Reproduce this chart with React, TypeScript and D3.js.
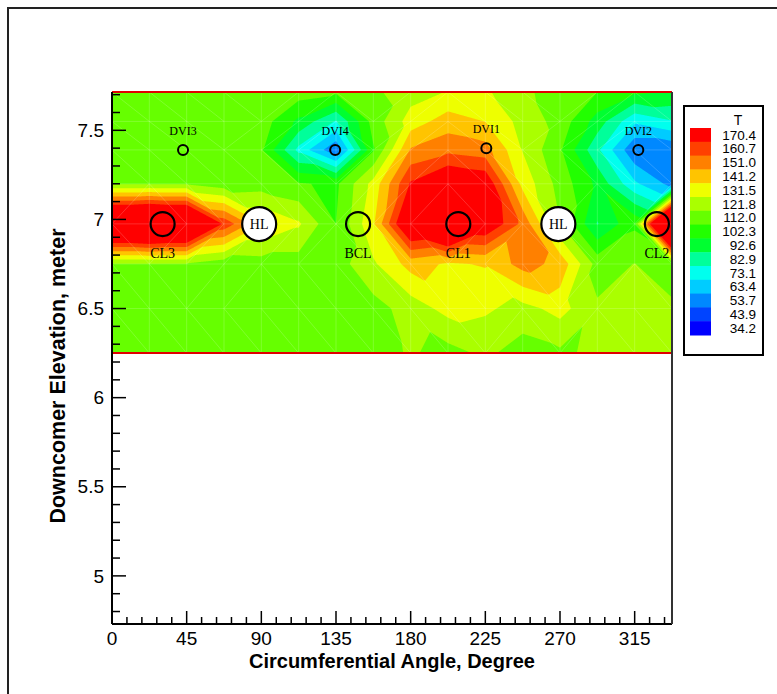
import React, { useEffect, useRef } from 'react';
import * as d3 from 'd3';

// measurement grid: angle columns (degree) and elevation rows (meter)
const gridAngles = [0, 22.5, 45, 67.5, 90, 112.5, 135, 157.5, 180, 202.5, 225, 247.5, 270, 292.5, 315, 337.5];
const gridElevations = [7.715, 7.55, 7.39, 7.2, 6.975, 6.75, 6.5, 6.25];

const temps7715 = [117, 117, 117, 117, 117, 117, 114, 120, 127, 132, 133, 124, 117, 112, 104, 102];
const temps755 = [117, 117, 117, 117, 117, 100, 82, 116, 136, 146, 141, 128, 118, 98, 75, 82];
const temps739 = [117, 117, 117, 117, 113, 80, 55, 111, 152, 158, 155, 131, 113, 85, 55, 55];
const temps720 = [121, 121, 121, 116, 117, 113, 110, 135, 172, 185, 180, 138, 118, 100, 75, 60];
const temps6975 = [215, 220, 215, 168, 142, 133, 112, 140, 190, 210, 182, 158, 122, 92, 110, 260];
const temps675 = [121, 121, 121, 116, 117, 117, 117, 130, 145, 140, 142, 155, 148, 118, 122, 115];
const temps650 = [117, 117, 117, 117, 117, 117, 117, 118, 126, 135, 133, 128, 135, 123, 124, 124];
const temps625 = [117, 117, 117, 117, 117, 117, 117, 117, 123, 118, 124, 117, 120, 124, 123, 125];
const tempRows = [temps7715, temps755, temps739, temps720, temps6975, temps675, temps650, temps625];

// contour levels (legend) and their colours
const levels = [34.2, 43.9, 53.7, 63.4, 73.1, 82.9, 92.6, 102.3, 112.0, 121.8, 131.5, 141.2, 151.0, 160.7, 170.4];
const levelColors = ['#0000ff', '#0044ff', '#0088ff', '#00ccff', '#00ffee', '#00ff9a', '#00ff30', '#22ff00',
  '#66ff00', '#aaff00', '#eeff00', '#ffc400', '#ff8000', '#ff4000', '#ff0000'];

// nozzles and DVI ports
const nozzleNames = ['CL3', 'HL', 'BCL', 'CL1', 'HL', 'CL2'];
const nozzleAngles = [30.5, 88.7, 148.3, 208.7, 269, 328.4];
const nozzleElevations = [6.974, 6.974, 6.974, 6.974, 6.974, 6.974];
const dviNames = ['DVI3', 'DVI4', 'DVI1', 'DVI2'];
const dviAngles = [42.8, 134.5, 225.6, 317.2];
const dviElevations = [7.39, 7.39, 7.4, 7.39];

const xTicks = [0, 45, 90, 135, 180, 225, 270, 315];
const yTicks = [5, 5.5, 6, 6.5, 7, 7.5];

// diagonal of each grid cell joins the two corners with closer values
const useMainDiagonal = (i: number, j: number) =>
  Math.abs(tempRows[j][i] - tempRows[j + 1][i + 1]) <= Math.abs(tempRows[j][i + 1] - tempRows[j + 1][i]);

// linear interpolation over the triangulated grid
const sampleTemp = (a: number, e: number) => {
  let i = 0;
  while (i < gridAngles.length - 2 && a > gridAngles[i + 1]) i++;
  let j = 0;
  while (j < gridElevations.length - 2 && e < gridElevations[j + 1]) j++;
  const tx = Math.max(0, Math.min(1, (a - gridAngles[i]) / (gridAngles[i + 1] - gridAngles[i])));
  const ty = Math.max(0, Math.min(1, (gridElevations[j] - e) / (gridElevations[j] - gridElevations[j + 1])));
  const v00 = tempRows[j][i], v10 = tempRows[j][i + 1];
  const v01 = tempRows[j + 1][i], v11 = tempRows[j + 1][i + 1];
  if (useMainDiagonal(i, j)) {
    if (tx >= ty) return v00 + tx * (v10 - v00) + ty * (v11 - v10);
    return v00 + ty * (v01 - v00) + tx * (v11 - v01);
  }
  if (tx + ty <= 1) return v00 + tx * (v10 - v00) + ty * (v01 - v00);
  return v11 + (1 - tx) * (v01 - v11) + (1 - ty) * (v10 - v11);
};

const App = () => {
  const svgRef = useRef<SVGSVGElement>(null);

  useEffect(() => {
    const svg = d3.select(svgRef.current);
    svg.selectAll('*').remove();

    const x = d3.scaleLinear().domain([0, 337.5]).range([112, 672]);
    const y = d3.scaleLinear().domain([4.73, 7.715]).range([624, 92]);

    const aMin = gridAngles[0], aMax = gridAngles[gridAngles.length - 1];
    const eTop = gridElevations[0], eBot = gridElevations[gridElevations.length - 1];
    const sans = 'Liberation Sans, Arial, sans-serif';
    const serif = 'Liberation Serif, Times New Roman, serif';

    // outer frame
    svg.append('rect')
      .attr('x', 8).attr('y', 8).attr('width', 800).attr('height', 720)
      .attr('fill', 'none').attr('stroke', '#222').attr('stroke-width', 2);

    // raster of interpolated temperatures
    const nx = Math.round(x(aMax) - x(aMin)) * 2;
    const ny = Math.round(y(eBot) - y(eTop)) * 2;
    const values = new Array(nx * ny);
    for (let j = 0; j < ny; j++) {
      const e = eTop - ((j + 0.5) / ny) * (eTop - eBot);
      for (let i = 0; i < nx; i++) {
        const a = aMin + ((i + 0.5) / nx) * (aMax - aMin);
        values[j * nx + i] = sampleTemp(a, e);
      }
    }
    const contours = d3.contours().size([nx, ny]).thresholds(levels)(values);
    const proj = d3.geoTransform({
      point(px: number, py: number) {
        this.stream.point(
          x(aMin + (px / nx) * (aMax - aMin)),
          y(eTop - (py / ny) * (eTop - eBot))
        );
      },
    });
    const path = d3.geoPath(proj);

    svg.append('clipPath').attr('id', 'dataClip')
      .append('rect')
      .attr('x', x(aMin)).attr('y', y(eTop))
      .attr('width', x(aMax) - x(aMin)).attr('height', y(eBot) - y(eTop));

    const field = svg.append('g').attr('clip-path', 'url(#dataClip)');
    field.selectAll('path.band')
      .data(contours)
      .join('path')
      .attr('class', 'band')
      .attr('d', d => path(d as any))
      .attr('fill', (d, k) => levelColors[k]);

    // faint triangulation mesh
    const mesh = field.append('g').attr('stroke', '#fff').attr('stroke-opacity', 0.22).attr('stroke-width', 0.8);
    gridAngles.slice(1, -1).forEach(a => {
      mesh.append('line').attr('x1', x(a)).attr('x2', x(a)).attr('y1', y(eTop)).attr('y2', y(eBot));
    });
    gridElevations.slice(1, -1).forEach(e => {
      mesh.append('line').attr('x1', x(aMin)).attr('x2', x(aMax)).attr('y1', y(e)).attr('y2', y(e));
    });
    for (let j = 0; j < gridElevations.length - 1; j++) {
      for (let i = 0; i < gridAngles.length - 1; i++) {
        const main = useMainDiagonal(i, j);
        mesh.append('line')
          .attr('x1', x(gridAngles[i])).attr('y1', y(gridElevations[main ? j : j + 1]))
          .attr('x2', x(gridAngles[i + 1])).attr('y2', y(gridElevations[main ? j + 1 : j]));
      }
    }

    // red data boundary lines
    [eTop, eBot].forEach(e => {
      svg.append('line')
        .attr('x1', x(aMin)).attr('x2', x(aMax)).attr('y1', y(e)).attr('y2', y(e))
        .attr('stroke', '#e00000').attr('stroke-width', 2);
    });

    // axes lines
    const axis = svg.append('g').attr('stroke', '#000').attr('stroke-width', 2);
    axis.append('line').attr('x1', x(0)).attr('x2', x(0)).attr('y1', y(7.715)).attr('y2', y(4.73));
    axis.append('line').attr('x1', x(0)).attr('x2', x(337.5)).attr('y1', y(4.73)).attr('y2', y(4.73));
    axis.append('line').attr('x1', x(337.5)).attr('x2', x(337.5)).attr('y1', y(7.715)).attr('y2', y(4.73))
      .attr('stroke', '#333');

    // x ticks
    d3.range(0, 337.5, 9).forEach(a => {
      const major = Math.abs(a % 45) < 1e-6;
      axis.append('line')
        .attr('x1', x(a)).attr('x2', x(a))
        .attr('y1', y(4.73)).attr('y2', y(4.73) - (major ? 13 : 7))
        .attr('stroke-width', 1.5);
    });
    // y ticks
    d3.range(48, 78).map(v => v / 10).forEach(e => {
      const major = Math.abs(e * 2 - Math.round(e * 2)) < 1e-6;
      axis.append('line')
        .attr('x1', x(0)).attr('x2', x(0) + (major ? 14 : 8))
        .attr('y1', y(e)).attr('y2', y(e))
        .attr('stroke-width', 1.5);
    });

    svg.append('g').selectAll('text')
      .data(xTicks).join('text')
      .attr('x', d => x(d)).attr('y', 645)
      .attr('text-anchor', 'middle')
      .attr('font-family', sans).attr('font-size', 19)
      .text(d => d);

    svg.append('g').selectAll('text')
      .data(yTicks).join('text')
      .attr('x', 104).attr('y', d => y(d))
      .attr('dy', '0.35em')
      .attr('text-anchor', 'end')
      .attr('font-family', sans).attr('font-size', 19)
      .text(d => d);

    // axis titles
    svg.append('text')
      .attr('x', 392).attr('y', 668)
      .attr('text-anchor', 'middle')
      .attr('font-family', sans).attr('font-size', 20).attr('font-weight', 'bold')
      .text('Circumferential Angle, Degree');

    svg.append('text')
      .attr('transform', 'translate(65,376) rotate(-90)')
      .attr('text-anchor', 'middle')
      .attr('font-family', sans).attr('font-size', 21.5).attr('font-weight', 'bold')
      .text('Downcomer Elevation, meter');

    // nozzles
    nozzleNames.forEach((name, k) => {
      const cx = x(nozzleAngles[k]), cy = y(nozzleElevations[k]);
      const isHL = name === 'HL';
      svg.append('circle')
        .attr('cx', cx).attr('cy', cy).attr('r', isHL ? 17 : 12)
        .attr('fill', isHL ? '#fff' : 'none')
        .attr('stroke', '#000').attr('stroke-width', 2.2);
      svg.append('text')
        .attr('x', cx).attr('y', isHL ? cy + 5 : cy + 34)
        .attr('text-anchor', 'middle')
        .attr('font-family', serif).attr('font-size', 14)
        .text(name);
    });

    dviNames.forEach((name, k) => {
      const cx = x(dviAngles[k]), cy = y(dviElevations[k]);
      svg.append('circle')
        .attr('cx', cx).attr('cy', cy).attr('r', 5)
        .attr('fill', 'none').attr('stroke', '#000').attr('stroke-width', 2);
      svg.append('text')
        .attr('x', cx).attr('y', cy - 15)
        .attr('text-anchor', 'middle')
        .attr('font-family', serif).attr('font-size', 12)
        .text(name);
    });

    // legend
    const legend = svg.append('g');
    legend.append('rect')
      .attr('x', 684).attr('y', 106).attr('width', 79).attr('height', 249)
      .attr('fill', '#fff').attr('stroke', '#000').attr('stroke-width', 2);
    legend.append('text')
      .attr('x', 738).attr('y', 125)
      .attr('text-anchor', 'middle')
      .attr('font-family', sans).attr('font-size', 14)
      .text('T');
    const legendLevels = levels.slice().reverse();
    const legendColors = levelColors.slice().reverse();
    const sy = d3.scaleBand<number>().domain(d3.range(legendLevels.length)).range([128, 335]);
    legendLevels.forEach((lv, k) => {
      legend.append('rect')
        .attr('x', 690).attr('y', sy(k)!).attr('width', 21).attr('height', sy.bandwidth() + 0.5)
        .attr('fill', legendColors[k]);
      legend.append('text')
        .attr('x', 756).attr('y', sy(k)! + sy.bandwidth() / 2)
        .attr('dy', '0.35em')
        .attr('text-anchor', 'end')
        .attr('font-family', sans).attr('font-size', 13.5)
        .text(lv.toFixed(1));
    });
  }, []);

  return (
    <svg
      ref={svgRef}
      width={777}
      height={694}
      style={{ position: 'absolute', left: 0, top: 0, background: '#fff' }}
    />
  );
};

export default App;
